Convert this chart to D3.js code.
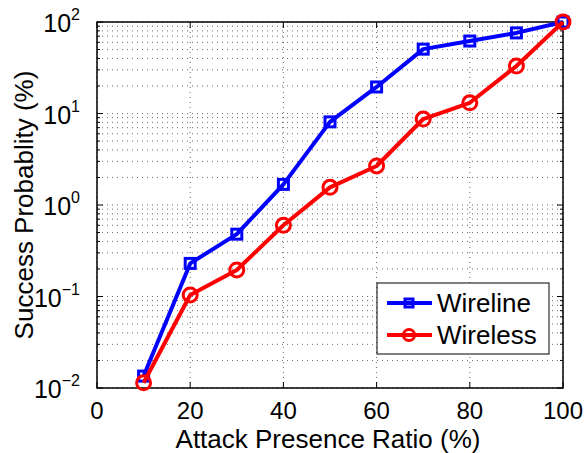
<!DOCTYPE html>
<html>
<head>
<meta charset="utf-8">
<script src="https://cdn.jsdelivr.net/npm/d3@7"></script>
<style>
  body { margin: 0; background: #fff; }
  svg { display: block; font-family: "Liberation Sans", Arial, sans-serif; }
</style>
</head>
<body>
<div id="chart"></div>
<script>
(function () {
  'use strict';

  var xValues = [10, 20, 30, 40, 50, 60, 70, 80, 90, 100];
  var wireline = [0.0135, 0.23, 0.48, 1.68, 8.1, 19.5, 50.5, 62, 76, 100];
  var wireless = [0.0114, 0.104, 0.195, 0.6, 1.56, 2.67, 8.7, 13.1, 33, 100];
  var xTicks = [0, 20, 40, 60, 80, 100];
  var yTicks = [-2, -1, 0, 1, 2];

  var width = 586, height = 453;
  var margin = { top: 22, right: 23, bottom: 65, left: 97 };
  var innerW = width - margin.left - margin.right;
  var innerH = height - margin.top - margin.bottom;

  var svg = d3.select('#chart').append('svg')
    .attr('width', width).attr('height', height);

  var g = svg.append('g')
    .attr('transform', 'translate(' + margin.left + ',' + margin.top + ')');

  var x = d3.scaleLinear().domain([0, 100]).range([0, innerW]);
  var y = d3.scaleLog().domain([0.01, 100]).range([innerH, 0]);

  // minor + major y values
  var yGrid = [];
  for (var e = -2; e < 2; e++) {
    for (var m = 1; m < 10; m++) { yGrid.push(m * Math.pow(10, e)); }
  }
  yGrid.push(100);

  // grid
  g.append('g').selectAll('line.hg')
    .data(yGrid).enter().append('line')
    .attr('x1', 0).attr('x2', innerW)
    .attr('y1', function (d) { return y(d); })
    .attr('y2', function (d) { return y(d); })
    .attr('stroke', '#444').attr('stroke-width', 0.8)
    .attr('stroke-dasharray', '1,4');

  g.append('g').selectAll('line.vg')
    .data(xTicks).enter().append('line')
    .attr('x1', function (d) { return x(d); })
    .attr('x2', function (d) { return x(d); })
    .attr('y1', 0).attr('y2', innerH)
    .attr('stroke', '#444').attr('stroke-width', 0.8)
    .attr('stroke-dasharray', '1,4');

  // inward ticks on all sides
  var ticks = g.append('g').attr('stroke', '#000').attr('stroke-width', 1);
  xTicks.forEach(function (d) {
    ticks.append('line').attr('x1', x(d)).attr('x2', x(d)).attr('y1', innerH).attr('y2', innerH - 6);
    ticks.append('line').attr('x1', x(d)).attr('x2', x(d)).attr('y1', 0).attr('y2', 6);
  });
  yGrid.forEach(function (d) {
    var major = Math.abs(Math.log10(d) - Math.round(Math.log10(d))) < 1e-9;
    var len = major ? 6 : 3;
    ticks.append('line').attr('x1', 0).attr('x2', len).attr('y1', y(d)).attr('y2', y(d));
    ticks.append('line').attr('x1', innerW).attr('x2', innerW - len).attr('y1', y(d)).attr('y2', y(d));
  });

  g.append('rect')
    .attr('width', innerW).attr('height', innerH)
    .attr('fill', 'none').attr('stroke', '#000').attr('stroke-width', 1.5);

  // tick labels
  g.append('g').selectAll('text')
    .data(xTicks).enter().append('text')
    .attr('x', function (d) { return x(d); })
    .attr('y', innerH + 31)
    .attr('text-anchor', 'middle')
    .attr('font-size', '24px')
    .text(function (d) { return d; });

  var yl = g.append('g').selectAll('g')
    .data(yTicks).enter().append('g')
    .attr('transform', function (d) { return 'translate(-17,' + (y(Math.pow(10, d)) + 10) + ')'; });
  yl.append('text')
    .attr('text-anchor', 'end')
    .attr('font-size', '25px')
    .html(function (d) {
      return '10<tspan dy="-12" font-size="16px">' + (d < 0 ? '\u2212' + (-d) : d) + '</tspan>';
    });

  // axis titles
  svg.append('text')
    .attr('x', margin.left + innerW / 2 - 2)
    .attr('y', 448)
    .attr('text-anchor', 'middle')
    .attr('font-size', '26px')
    .text('Attack Presence Ratio (%)');

  svg.append('text')
    .attr('transform', 'translate(33,' + (margin.top + innerH / 2) + ') rotate(-90)')
    .attr('text-anchor', 'middle')
    .attr('font-size', '26px')
    .text('Success Probablity (%)');

  var series = [
    { name: 'Wireline', values: wireline, color: '#0000ff', marker: 'square' },
    { name: 'Wireless', values: wireless, color: '#ff0000', marker: 'circle' }
  ];

  var line = d3.line()
    .x(function (d) { return x(d[0]); })
    .y(function (d) { return y(d[1]); });

  function drawMarker(sel, s, cx, cy, k) {
    k = k || 1;
    if (s.marker === 'square') {
      var h = 5 * k;
      sel.append('rect')
        .attr('x', cx - h).attr('y', cy - h)
        .attr('width', 2 * h).attr('height', 2 * h)
        .attr('fill', 'none').attr('stroke', s.color).attr('stroke-width', 3);
    } else {
      sel.append('circle')
        .attr('cx', cx).attr('cy', cy).attr('r', 7 * k)
        .attr('fill', 'none').attr('stroke', s.color).attr('stroke-width', 3);
    }
  }

  series.forEach(function (s) {
    var pts = xValues.map(function (xv, i) { return [xv, s.values[i]]; });
    var sg = g.append('g');
    sg.append('path')
      .datum(pts)
      .attr('d', line)
      .attr('fill', 'none')
      .attr('stroke', s.color)
      .attr('stroke-width', 4)
      .attr('stroke-linejoin', 'round');
    pts.forEach(function (p) { drawMarker(sg, s, x(p[0]), y(p[1])); });
  });

  // legend
  var lg = svg.append('g').attr('transform', 'translate(377,283)');
  lg.append('rect')
    .attr('width', 172).attr('height', 71)
    .attr('fill', '#fff').attr('stroke', '#000').attr('stroke-width', 1);
  series.forEach(function (s, i) {
    var cy = 20 + i * 32;
    lg.append('line')
      .attr('x1', 10).attr('x2', 55).attr('y1', cy).attr('y2', cy)
      .attr('stroke', s.color).attr('stroke-width', 4);
    drawMarker(lg, s, 32, cy, 0.8);
    lg.append('text')
      .attr('x', 60).attr('y', cy + 9)
      .attr('font-size', '26px')
      .text(s.name);
  });
})();
</script>
</body>
</html>
